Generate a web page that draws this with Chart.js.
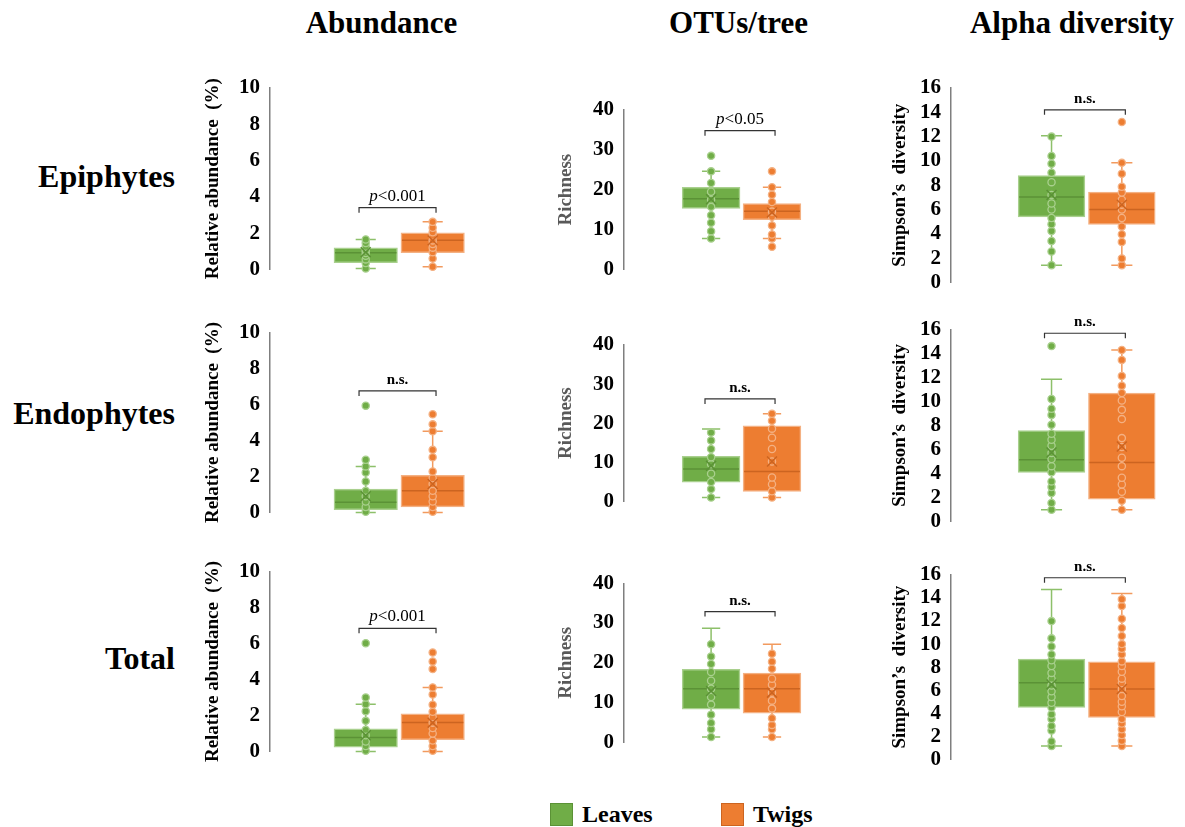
<!DOCTYPE html>
<html>
<head>
<meta charset="utf-8">
<script src="https://cdn.jsdelivr.net/npm/chart.js@4"></script>
<style>
  body { margin: 0; background: #fff; }
  #fig { position: relative; width: 1185px; height: 827px; overflow: hidden;
         font-family: 'Liberation Serif', 'Times New Roman', serif; color: #000; }
  .lbl { position: absolute; font-weight: bold; white-space: nowrap; }
  .col { font-size: 31px; line-height: 31px; transform: translateX(-50%); }
  .row { font-size: 32px; line-height: 32px; text-align: right; width: 175px; left: 0; }
  .key { position: absolute; width: 21px; height: 21px; top: 803px; }
  .keytxt { font-size: 24px; line-height: 24px; top: 803px; }
  canvas { position: absolute; }
</style>
</head>
<body>
<div id="fig"></div>
<script>
const groups = ['Leaves', 'Twigs'];
const colTitles = ['Abundance', 'OTUs/tree', 'Alpha diversity'];
const rowTitles = ['Epiphytes', 'Endophytes', 'Total'];
const yTitles = ['Relative abundance  (%)', 'Richness', 'Simpson\u2019s  diversity'];
const yMax = [10, 40, 16];
const yStep = [2, 10, 2];

// box stats: [lower whisker, Q1, median, Q3, upper whisker, mean]
// Epiphytes
const epiAbundLeavesBox = [0.05, 0.37, 0.92, 1.19, 1.65, 0.95];
const epiAbundTwigsBox  = [0.15, 0.92, 1.61, 2.01, 2.62, 1.6];
const epiAbundLeaves = [0.05, 0.35, 0.55, 0.75, 0.9, 1.05, 1.25, 1.45, 1.65];
const epiAbundTwigs  = [0.15, 0.6, 0.95, 1.2, 1.4, 1.6, 1.85, 2.05, 2.3, 2.62];

const epiOtuLeavesBox = [7.75, 15.3, 17.75, 20.6, 24.6, 17.6];
const epiOtuTwigsBox  = [7.75, 12.5, 14.6, 16.5, 20.6, 14.3];
const epiOtuLeaves = [7.75, 9.6, 11.7, 13.6, 15.7, 17.5, 19.5, 21.7, 24.6, 28.5];
const epiOtuTwigs  = [5.7, 7.75, 8.75, 11, 13.2, 14.5, 16.9, 18.75, 20.6, 24.6];

const epiAlphaLeavesBox = [1.42, 5.38, 7.02, 8.8, 12.08, 7.2];
const epiAlphaTwigsBox  = [1.42, 4.78, 6.01, 7.43, 9.84, 6.4];
const epiAlphaLeaves = [1.42, 2.54, 3.41, 4.23, 4.78, 5.3, 6.0, 6.5, 7.2, 8.25, 9.02, 9.76, 10.4, 12.0];
const epiAlphaTwigs  = [1.42, 1.97, 3.33, 3.96, 4.6, 5.3, 6.0, 6.4, 6.8, 7.4, 7.87, 8.94, 9.84, 13.2];

// Endophytes
const endoAbundLeavesBox = [0, 0.15, 0.56, 1.3, 2.56, 0.9];
const endoAbundTwigsBox  = [0, 0.3, 1.2, 2.06, 4.52, 1.58];
const endoAbundLeaves = [0.03, 0.3, 0.6, 0.9, 1.2, 1.72, 2.22, 2.56, 2.93, 5.94];
const endoAbundTwigs  = [0.03, 0.3, 0.6, 0.9, 1.2, 1.58, 1.9, 2.28, 3.07, 3.48, 4.52, 4.9, 5.46];

const endoOtuLeavesBox = [1.0, 4.95, 8.27, 11.5, 18.5, 9.1];
const endoOtuTwigsBox  = [1.0, 2.56, 7.66, 19.3, 22.4, 10.2];
const endoOtuLeaves = [1.0, 3.15, 4.95, 7.07, 9.5, 11.3, 13.4, 15.6, 17.6];
const endoOtuTwigs  = [1.0, 2.6, 4.4, 6.1, 10.2, 13.4, 16.3, 18.6, 20.6, 22.4];

const endoAlphaLeavesBox = [0.97, 4.08, 5.13, 7.57, 11.85, 5.74];
const endoAlphaTwigsBox  = [0.97, 1.86, 4.91, 10.68, 14.28, 6.24];
const endoAlphaLeaves = [0.97, 1.53, 2.36, 2.86, 3.33, 4.1, 4.6, 5.2, 5.7, 6.3, 6.8, 7.3, 8.04, 8.87, 9.38, 10.2, 14.6];
const endoAlphaTwigs  = [0.97, 1.72, 2.47, 3.08, 3.64, 4.6, 5.3, 6.2, 6.94, 8.52, 9.29, 10.07, 10.7, 11.3, 12.12, 13.45, 14.28];

// Total
const totAbundLeavesBox = [0, 0.24, 0.78, 1.26, 2.63, 0.9];
const totAbundTwigsBox  = [0, 0.65, 1.61, 2.09, 3.56, 1.6];
const totAbundLeaves = [0.03, 0.3, 0.55, 0.9, 1.2, 1.7, 2.24, 2.63, 3.0, 6.02];
const totAbundTwigs  = [0.03, 0.3, 0.6, 1.0, 1.3, 1.6, 1.9, 2.2, 2.6, 3.17, 3.56, 4.58, 5.0, 5.5];

const totOtuLeavesBox = [1.34, 8.37, 13.5, 18.4, 28.7, 12.9];
const totOtuTwigsBox  = [1.34, 7.37, 13.5, 17.4, 24.7, 12.5];
const totOtuLeaves = [1.34, 3.3, 4.9, 6.98, 9.5, 11.4, 13.5, 15.5, 17.7, 19.7, 21.6, 24.7];
const totOtuTwigs  = [1.34, 3.3, 4.4, 6.1, 8.5, 10.5, 12.5, 14.5, 16, 18.5, 20.3, 22.3];

const totAlphaLeavesBox = [1.15, 4.5, 6.65, 8.7, 14.75, 6.5];
const totAlphaTwigsBox  = [1.15, 3.64, 6.1, 8.47, 14.4, 6.1];
const totAlphaLeaves = [1.15, 1.55, 2.5, 2.9, 3.5, 3.9, 4.5, 4.9, 5.4, 5.9, 6.4, 7.0, 7.5, 8.1, 8.6, 9.1, 9.8, 10.5, 12.0];
const totAlphaTwigs  = [1.15, 1.6, 2.1, 2.6, 3.1, 3.5, 4.1, 4.6, 5.0, 5.5, 6.1, 6.6, 7.0, 7.6, 8.1, 8.5, 9.1, 9.6, 10.0, 10.7, 11.4, 12.2, 13.3, 13.9];

const bracketLevels = [3.4, 34.8, 14.2, 6.76, 26.2, 15.67, 6.85, 32.9, 15.76];
const bracketLabels = ['p<0.001', 'p<0.05', 'n.s.', 'n.s.', 'n.s.', 'n.s.', 'p<0.001', 'n.s.', 'n.s.'];

const panels = [
  [epiAbundLeaves, epiAbundTwigs, epiAbundLeavesBox, epiAbundTwigsBox],
  [epiOtuLeaves, epiOtuTwigs, epiOtuLeavesBox, epiOtuTwigsBox],
  [epiAlphaLeaves, epiAlphaTwigs, epiAlphaLeavesBox, epiAlphaTwigsBox],
  [endoAbundLeaves, endoAbundTwigs, endoAbundLeavesBox, endoAbundTwigsBox],
  [endoOtuLeaves, endoOtuTwigs, endoOtuLeavesBox, endoOtuTwigsBox],
  [endoAlphaLeaves, endoAlphaTwigs, endoAlphaLeavesBox, endoAlphaTwigsBox],
  [totAbundLeaves, totAbundTwigs, totAbundLeavesBox, totAbundTwigsBox],
  [totOtuLeaves, totOtuTwigs, totOtuLeavesBox, totOtuTwigsBox],
  [totAlphaLeaves, totAlphaTwigs, totAlphaLeavesBox, totAlphaTwigsBox]
];

// layout (pixels)
const colAxisX = [270, 624, 951];
const colSpacing = [67.5, 61.5, 71];
const titleGap = [57, 58, 51];
const plotTop = [88, 110, 88, 332.7, 345, 329.3, 571.7, 583.3, 575];
const plotBottom = [270, 270, 283, 512.7, 501.7, 521.7, 751.7, 742.7, 759.3];
const xMin = -0.43, xMax = 2.55, yAxisW = 80;

const fill = ['#70AD47', '#ED7D31'];
const edge = ['#A9D08E', '#F4B183'];
const whisk = ['#8DC06A', '#F29A5E'];
const dark = ['#5B9236', '#CC6420'];
const serif = "'Liberation Serif', 'Times New Roman', serif";

const fig = document.getElementById('fig');
function addLabel(text, cls, left, top) {
  const d = document.createElement('div');
  d.className = 'lbl ' + cls;
  d.textContent = text;
  if (left !== null) d.style.left = left + 'px';
  d.style.top = top + 'px';
  fig.appendChild(d);
  return d;
}
[381.5, 738.5, 1072].forEach((x, i) => addLabel(colTitles[i], 'col', x, 7));
[160, 397, 642].forEach((y, i) => addLabel(rowTitles[i], 'row', null, y));

// legend
groups.forEach((g, i) => {
  const k = document.createElement('div');
  k.className = 'key';
  k.style.left = [550, 721][i] + 'px';
  k.style.background = fill[i];
  k.style.border = '1px solid ' + dark[i];
  fig.appendChild(k);
  addLabel(g, 'keytxt', [582, 753][i], 802);
});

const boxParts = {
  id: 'boxParts',
  beforeDatasetsDraw(chart) {
    const o = chart.options.plugins.boxParts;
    const xs = chart.scales.x, ys = chart.scales.y, ctx = chart.ctx;
    ctx.save();
    ctx.lineWidth = 1.5;
    o.stats.forEach((s, i) => {
      const cx = xs.getPixelForValue(i + 1);
      const hw = xs.getPixelForValue(i + 1.15) - cx;
      ctx.strokeStyle = whisk[i];
      ctx.beginPath();
      ctx.moveTo(cx, ys.getPixelForValue(s[0]));
      ctx.lineTo(cx, ys.getPixelForValue(s[4]));
      [s[0], s[4]].forEach(v => {
        const y = ys.getPixelForValue(v);
        ctx.moveTo(cx - hw, y);
        ctx.lineTo(cx + hw, y);
      });
      ctx.stroke();
    });
    ctx.restore();
  },
  afterDatasetDraw(chart, args) {
    if (args.meta.type !== 'bar') return;
    const o = chart.options.plugins.boxParts;
    const ys = chart.scales.y, ctx = chart.ctx;
    ctx.save();
    ctx.lineWidth = 1.5;
    args.meta.data.forEach((bar, i) => {
      const y = ys.getPixelForValue(o.stats[i][2]);
      ctx.strokeStyle = dark[i];
      ctx.beginPath();
      ctx.moveTo(bar.x - bar.width / 2 + 1, y);
      ctx.lineTo(bar.x + bar.width / 2 - 1, y);
      ctx.stroke();
    });
    ctx.restore();
  },
  afterDraw(chart) {
    const o = chart.options.plugins.boxParts;
    const xs = chart.scales.x, ys = chart.scales.y, ctx = chart.ctx;
    const x1 = xs.getPixelForValue(0.9), x2 = xs.getPixelForValue(2.05);
    const y = ys.getPixelForValue(o.level);
    ctx.save();
    ctx.strokeStyle = '#333';
    ctx.lineWidth = 1.2;
    ctx.beginPath();
    ctx.moveTo(x1, y + 5);
    ctx.lineTo(x1, y);
    ctx.lineTo(x2, y);
    ctx.lineTo(x2, y + 5);
    ctx.stroke();
    ctx.fillStyle = '#000';
    ctx.textBaseline = 'alphabetic';
    const mid = (x1 + x2) / 2;
    if (o.label.startsWith('p')) {
      const rest = o.label.slice(1);
      ctx.font = 'italic 17px ' + serif;
      const wp = ctx.measureText('p').width;
      ctx.font = '17px ' + serif;
      const wr = ctx.measureText(rest).width;
      const sx = mid - (wp + wr) / 2;
      ctx.textAlign = 'left';
      ctx.font = 'italic 17px ' + serif;
      ctx.fillText('p', sx, y - 7);
      ctx.font = '17px ' + serif;
      ctx.fillText(rest, sx + wp, y - 7);
    } else {
      ctx.font = 'bold 15px ' + serif;
      ctx.textAlign = 'center';
      ctx.fillText(o.label, mid, y - 7);
    }
    ctx.restore();
  }
};

panels.forEach((p, i) => {
  const c = i % 3;
  const sp = colSpacing[c];
  const top = plotTop[i], bottom = plotBottom[i];
  const plotW = (xMax - xMin) * sp;
  const cLeft = colAxisX[c] - yAxisW;
  const cTop = Math.floor(top - 40);
  const padTop = top - cTop;
  const w = Math.ceil(yAxisW + plotW + 6);
  const h = Math.ceil(padTop + (bottom - top) + 22);
  const canvas = document.createElement('canvas');
  canvas.width = w;
  canvas.height = h;
  canvas.style.left = cLeft + 'px';
  canvas.style.top = cTop + 'px';
  fig.appendChild(canvas);

  const stats = [p[2], p[3]];
  new Chart(canvas, {
    type: 'bar',
    data: {
      datasets: [
        {
          type: 'scatter', order: 0, clip: false,
          data: stats.map((s, g) => ({ x: g + 1, y: s[5] })),
          pointStyle: 'crossRot', pointRadius: 7, borderWidth: 1.5,
          pointBorderColor: dark
        },
        {
          type: 'scatter', order: 1, clip: false, label: groups[0],
          data: p[0].map(v => ({ x: 1, y: v })),
          pointRadius: 3.6, borderWidth: 1.3,
          pointBackgroundColor: fill[0], pointBorderColor: edge[0]
        },
        {
          type: 'scatter', order: 1, clip: false, label: groups[1],
          data: p[1].map(v => ({ x: 2, y: v })),
          pointRadius: 3.6, borderWidth: 1.3,
          pointBackgroundColor: fill[1], pointBorderColor: edge[1]
        },
        {
          type: 'bar', order: 2, clip: false,
          data: stats.map((s, g) => ({ x: g + 1, y: [s[1], s[3]] })),
          backgroundColor: fill, borderColor: edge, borderWidth: 1.5,
          borderSkipped: false, barThickness: sp * 0.94
        }
      ]
    },
    options: {
      responsive: false,
      animation: false,
      devicePixelRatio: 1,
      layout: { padding: { left: 0, top: padTop, right: w - yAxisW - plotW, bottom: h - padTop - (bottom - top) } },
      plugins: {
        legend: { display: false },
        tooltip: { enabled: false },
        boxParts: { stats: stats, level: bracketLevels[i], label: bracketLabels[i] }
      },
      scales: {
        x: { type: 'linear', min: xMin, max: xMax, offset: false, display: false },
        y: {
          min: 0, max: yMax[c],
          afterFit: s => { s.width = yAxisW; },
          grid: { display: false, drawTicks: false },
          border: { display: true, color: '#7F7F7F', width: 1.5 },
          ticks: { stepSize: yStep[c], padding: 10, color: '#000', autoSkip: false,
                   font: { family: serif, size: 21, weight: 'bold' } },
          title: {
            display: true, text: yTitles[c],
            color: c === 1 ? '#595959' : '#000',
            font: { family: serif, size: 19, weight: 'bold' },
            padding: { top: yAxisW - titleGap[c] - 11.4, bottom: 0 }
          }
        }
      }
    },
    plugins: [boxParts]
  });
});
</script>
</body>
</html>
